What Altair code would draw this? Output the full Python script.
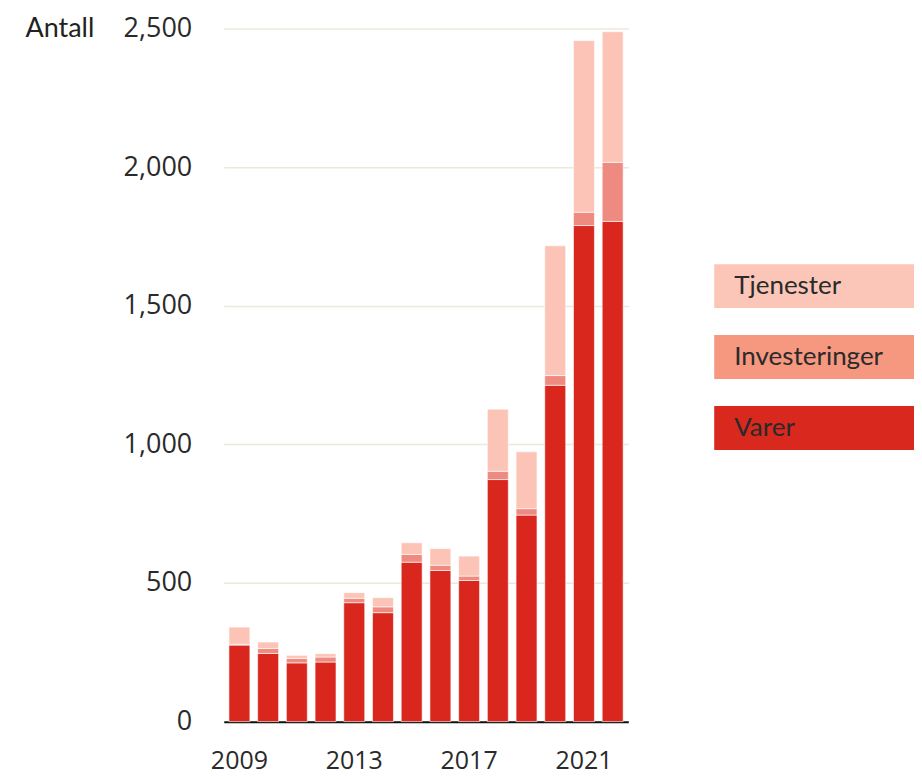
import altair as alt
import pandas as pd

years = [2009, 2010, 2011, 2012, 2013, 2014, 2015, 2016, 2017, 2018, 2019, 2020, 2021, 2022]
varer = [276, 246, 212, 215, 429, 393, 575, 545, 509, 873, 745, 1213, 1789, 1804]
investeringer = [3, 18, 16, 18, 16, 21, 28, 19, 16, 30, 23, 35, 48, 213]
tjenester = [62, 23, 11, 12, 20, 33, 42, 60, 72, 224, 205, 468, 619, 471]

series = ["Tjenester", "Investeringer", "Varer"]
bar_colors = ["#fbc4b7", "#ee8a7f", "#d9271d"]
legend_colors = ["#fbc6b8", "#f6987f", "#d9281e"]
y_ticks = [0, 500, 1000, 1500, 2000, 2500]
x_label_years = [2009, 2013, 2017, 2021]

rows = []
for i, yr in enumerate(years):
    rows.append({"year": yr, "series": "Varer", "value": varer[i], "ord": 0})
    rows.append({"year": yr, "series": "Investeringer", "value": investeringer[i], "ord": 1})
    rows.append({"year": yr, "series": "Tjenester", "value": tjenester[i], "ord": 2})
df = pd.DataFrame(rows)

label_font = "Open Sans"

bars = alt.Chart(df).mark_bar(stroke="white", strokeWidth=0.6).encode(
    x=alt.X(
        "year:O",
        scale=alt.Scale(paddingInner=0.27, paddingOuter=0.18),
        axis=alt.Axis(
            title=None,
            values=x_label_years,
            labelAngle=0,
            ticks=False,
            domain=True,
            domainColor="#111111",
            domainWidth=2,
            labelFont=label_font,
            labelFontSize=25,
            labelColor="#2a2a2a",
            labelPadding=27,
            grid=False,
        ),
    ),
    y=alt.Y(
        "value:Q",
        stack="zero",
        scale=alt.Scale(domain=[0, 2500], nice=False),
        axis=alt.Axis(
            values=y_ticks,
            format=",.0f",
            title="Antall",
            titleAngle=0,
            titleAlign="left",
            titleBaseline="middle",
            titleX=-199,
            titleY=0,
            titleFont="Lato",
            titleFontSize=27,
            titleFontWeight="normal",
            titleColor="#222222",
            ticks=False,
            domain=False,
            labelFont=label_font,
            labelFontSize=27,
            labelColor="#2a2a2a",
            labelPadding=32,
            grid=True,
            gridColor="#ebe8dc",
            gridWidth=1.5,
        ),
    ),
    color=alt.Color(
        "series:N",
        scale=alt.Scale(domain=series, range=bar_colors),
        legend=None,
    ),
    order=alt.Order("ord:Q", sort="ascending"),
).properties(width=405, height=694)

leg_df = pd.DataFrame({"series": series, "color": legend_colors})

leg_y = alt.Y(
    "series:N",
    sort=series,
    axis=None,
    scale=alt.Scale(domain=series, paddingInner=0.38, paddingOuter=0, range=[236, 422]),
)

leg_rect = alt.Chart(leg_df).mark_rect().encode(
    y=leg_y,
    color=alt.Color("color:N", scale=None, legend=None),
)
leg_text = alt.Chart(leg_df).mark_text(
    align="left", baseline="middle", font="Lato", fontSize=26, color="#2a2a2a", dx=20
).encode(
    y=leg_y,
    x=alt.value(0),
    text="series:N",
)
legend_panel = alt.layer(leg_rect, leg_text).properties(width=200, height=694)

chart = alt.hconcat(bars, legend_panel, spacing=86).properties(
    padding={"left": 17, "top": 6, "right": 0, "bottom": 4},
    background="white",
).configure_view(strokeWidth=0, stroke=None)

chart.save("out.html", embed_options={"renderer": "svg", "actions": False})
